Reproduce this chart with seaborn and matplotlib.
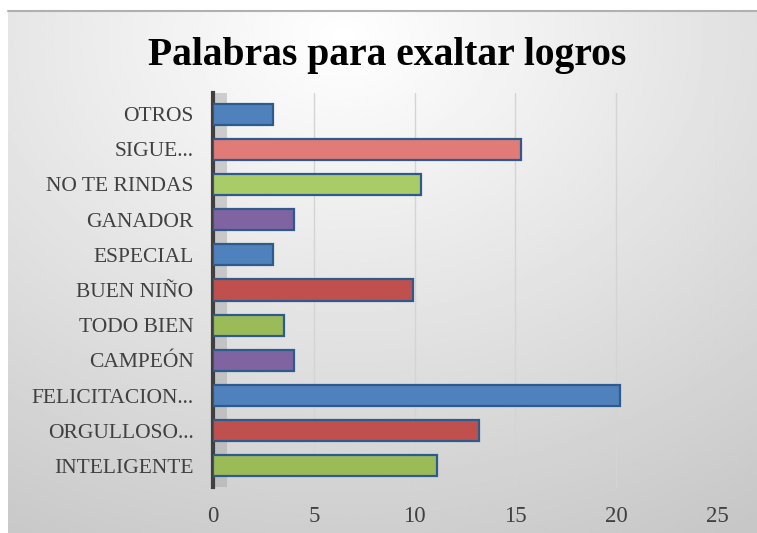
import numpy as np
import pandas as pd
import matplotlib
matplotlib.use("Agg")
import matplotlib.pyplot as plt
import seaborn as sns

# =========================
# DATA
# =========================
categories = ["OTROS", "SIGUE...", "NO TE RINDAS", "GANADOR", "ESPECIAL",
              "BUEN NIÑO", "TODO BIEN", "CAMPEÓN", "FELICITACION...",
              "ORGULLOSO...", "INTELIGENTE"]
values = [3, 15.3, 10.3, 4, 3, 9.9, 3.5, 4, 20.2, 13.2, 11.1]
bar_colors = ["#4F81BD", "#E07B78", "#A9CC68", "#8064A2", "#4F81BD",
              "#C0504D", "#9BBB59", "#8064A2", "#4F81BD", "#C0504D", "#9BBB59"]
x_ticks = [0, 5, 10, 15, 20, 25]

df = pd.DataFrame({"palabra": categories, "n": values})

# =========================
# FIGURE
# =========================
sns.set_style("white")
plt.rcParams["font.family"] = ["Liberation Serif", "DejaVu Serif"]

fig = plt.figure(figsize=(7.57, 5.33), dpi=100)

# gradient background
bg = fig.add_axes([8 / 757, 0, 1 - 8 / 757, 1 - 11 / 533], zorder=0)
yy, xx = np.mgrid[0:1:300j, 0:1:400j]
dist = np.sqrt(((xx - 0.45) / 1.0) ** 2 + ((yy - 0.05) / 1.1) ** 2)
grad = 1.0 - 0.22 * np.clip(dist, 0, 1)
bg.imshow(grad, cmap="gray", vmin=0, vmax=1, aspect="auto", extent=[0, 1, 1, 0])
bg.axis("off")
fig.add_artist(plt.Line2D([8 / 757, 1], [1 - 11 / 533] * 2, color="#b0b0b0", lw=1.5))

ax = fig.add_axes([213 / 757, 1 - 487 / 533, (717 - 213) / 757, (487 - 93) / 533], zorder=1)
ax.patch.set_alpha(0)

sns.barplot(data=df, y="palabra", x="n", hue="palabra", order=categories,
            palette=bar_colors, legend=False, orient="h", width=0.6,
            edgecolor="#2F5A8C", linewidth=1.6, saturation=1, ax=ax, zorder=3)

# 3D side wall shading
ax.axvspan(0, 0.7, color="#a8a8a8", alpha=0.5, zorder=1, lw=0)

ax.set_xlim(0, 25)
ax.set_ylim(10.6, -0.6)
ax.set_xticks(x_ticks)
ax.set_xticklabels([str(t) for t in x_ticks])
ax.xaxis.grid(True, color="#d4d4d4", lw=1, zorder=0)
ax.yaxis.grid(False)
for s in ["top", "right", "bottom"]:
    ax.spines[s].set_visible(False)
ax.spines["left"].set_color("#404040")
ax.spines["left"].set_linewidth(3)
ax.tick_params(axis="x", length=0, pad=14, labelsize=16.5, labelcolor="#404040")
ax.tick_params(axis="y", length=0, pad=14, labelsize=15.5, labelcolor="#404040")
ax.set_xlabel("")
ax.set_ylabel("")

fig.text(0.512, 1 - 55 / 533, "Palabras para exaltar logros", ha="center", va="center",
         fontsize=28.5, fontweight="bold", color="black")

fig.savefig("out.png", dpi=100)
